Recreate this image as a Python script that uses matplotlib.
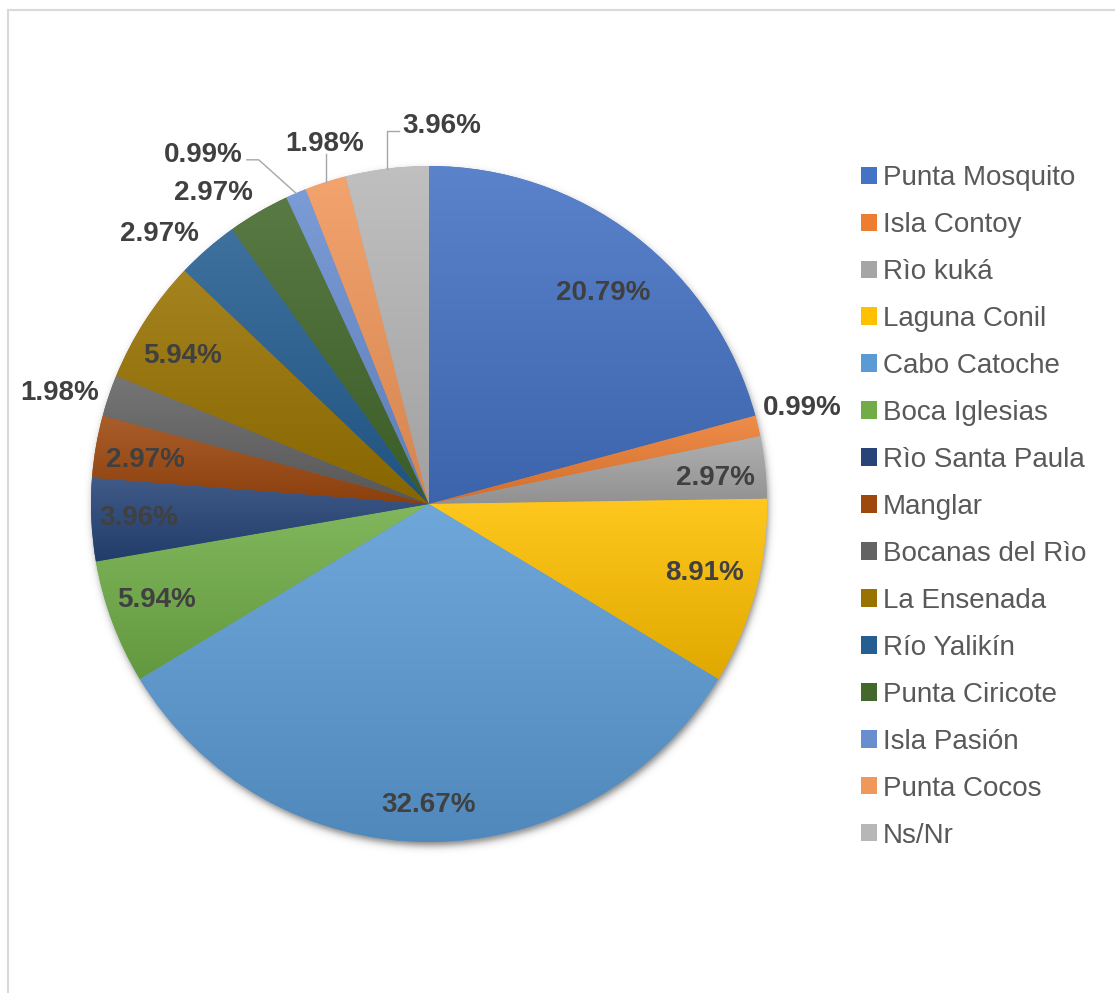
import numpy as np
import matplotlib
matplotlib.use("Agg")
import matplotlib.pyplot as plt
import matplotlib.colors as mcolors
from matplotlib.patches import Patch, Rectangle

plt.rcParams['font.family'] = ['Liberation Sans', 'DejaVu Sans']

# datos: lugar de procedencia (% de respuestas)
lugares = ["Punta Mosquito", "Isla Contoy", "Rìo kuká", "Laguna Conil", "Cabo Catoche",
           "Boca Iglesias", "Rìo Santa Paula", "Manglar", "Bocanas del Rìo", "La Ensenada",
           "Río Yalikín", "Punta Ciricote", "Isla Pasión", "Punta Cocos", "Ns/Nr"]
porcentajes = [20.79, 0.99, 2.97, 8.91, 32.67, 5.94, 3.96, 2.97, 1.98, 5.94,
               2.97, 2.97, 0.99, 1.98, 3.96]
colores = ["#4472C4", "#ED7D31", "#A5A5A5", "#FFC000", "#5B9BD5", "#70AD47",
           "#264478", "#9E480E", "#636363", "#997300", "#255E91", "#43682B",
           "#698ED0", "#F1975A", "#B7B7B7"]

# donde va cada etiqueta: distancia al centro (radio=1) y giro en grados
etiq_r = [0.81, 1.14, 0.85, 0.84, 0.89, 0.855, 0.86, 0.85, 1.14, 0.85, 1.13, 1.12, 1.23, 1.11, 1.12]
etiq_giro = [-2, 1, -1, 1, 0, -1, 0, 1, 2, 2, 4, 4.4, 9.7, -1.7, -9]

W, H = 1115, 993
R = 338.0          # radio del pastel en px
cx, cy = 429, 504  # centro en px (desde arriba)
half = 470.0
px = 1 / R

fig = plt.figure(figsize=(W / 100, H / 100), dpi=100)
ax = fig.add_axes([(cx - half) / W, (H - cy - half) / H, 2 * half / W, 2 * half / H])
L = half / R

# marco gris
fig.patches.append(Rectangle((8 / W, -0.1), 1.2, 1 - 10 / H + 0.1, transform=fig.transFigure,
                             fill=False, edgecolor="#D9D9D9", lw=1.5, zorder=0))

# sombra difusa del pastel
g = np.linspace(-L, L, 600)
X, Y = np.meshgrid(g, g)
d = np.hypot(X - 1.5 * px, Y + 4 * px)
sombra = 0.5 / (1 + np.exp((d - 1) / (2.2 * px)))
img = np.zeros((600, 600, 4))
img[..., 3] = sombra
ax.imshow(img, extent=(-L, L, -L, L), origin="lower", zorder=0, interpolation="bilinear")

wedges, _ = ax.pie(porcentajes, colors=colores, startangle=90, counterclock=False,
                   radius=1, wedgeprops=dict(linewidth=0))

# degradado vertical en cada porción
t = np.linspace(0, 1, 128)[:, None]
for w, c in zip(wedges, colores):
    w.set_zorder(1)
    ext = w.get_path().get_extents()
    rgb = np.array(mcolors.to_rgb(c))
    arriba = rgb + (1 - rgb) * 0.12
    abajo = rgb * 0.88
    grad = (arriba * (1 - t) + abajo * t)[:, None, :]
    im = ax.imshow(grad, extent=(ext.x0, ext.x1, ext.y0, ext.y1), origin="upper",
                   aspect="auto", interpolation="bilinear", zorder=2)
    im.set_clip_path(w)

textos = []
medios = []
for w, p, r, giro in zip(wedges, porcentajes, etiq_r, etiq_giro):
    mid = np.deg2rad((w.theta1 + w.theta2) / 2)
    medios.append(mid)
    a = mid + np.deg2rad(giro)
    tx = ax.text(r * np.cos(a), r * np.sin(a), f"{p:.2f}%", ha="center", va="center",
                 fontsize=20, fontweight="bold", color="#404040", zorder=5)
    textos.append(tx)

ax.set_xlim(-L, L)
ax.set_ylim(-L, L)
ax.set_aspect("equal")
ax.axis("off")

# líneas guía para las etiquetas alejadas
fig.canvas.draw()
inv = ax.transData.inverted()


def caja(tx):
    bb = tx.get_window_extent()
    (x0, y0), (x1, y1) = inv.transform([(bb.x0, bb.y0), (bb.x1, bb.y1)])
    return x0, y0, x1, y1


def borde(i):
    return np.cos(medios[i]), np.sin(medios[i])


ex, ey = borde(12)
x0, y0, x1, y1 = caja(textos[12])
yl = (y0 + y1) / 2 - 5 * px
ax.plot([ex, x1 + 16 * px, x1 + 4 * px], [ey, yl, yl], color="#A6A6A6", lw=1, zorder=4)

ex, ey = borde(13)
x0, y0, x1, y1 = caja(textos[13])
ax.plot([ex, ex], [ey, y0 + 3 * px], color="#A6A6A6", lw=1, zorder=4)

ex, ey = borde(14)
x0, y0, x1, y1 = caja(textos[14])
yl = (y0 + y1) / 2 - 5 * px
ax.plot([ex, ex, x0 - 3 * px], [ey, yl, yl], color="#A6A6A6", lw=1, zorder=4)

# leyenda
handles = [Patch(facecolor=c, edgecolor="none") for c in colores]
fig.legend(handles, lugares, loc="upper left", bbox_to_anchor=(861 / W, 1 - 165 / H),
           bbox_transform=fig.transFigure, frameon=False, fontsize=20,
           labelcolor="#595959", handlelength=0.58, handleheight=0.58,
           handletextpad=0.22, labelspacing=0.755, borderpad=0, borderaxespad=0)

fig.savefig("out.png", dpi=100, facecolor="white")
